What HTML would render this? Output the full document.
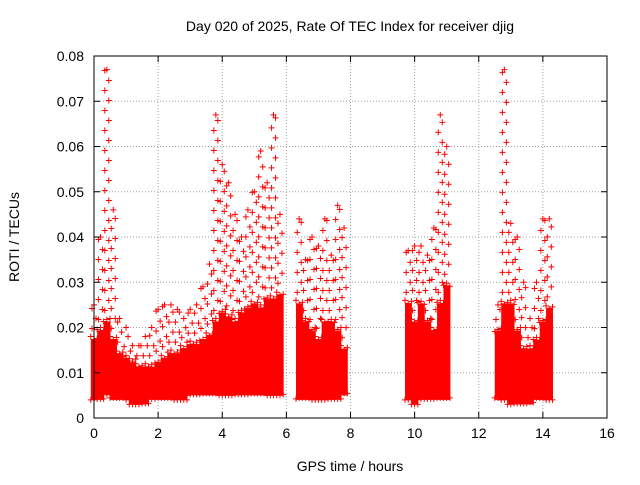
<!DOCTYPE html>
<html><head><meta charset="utf-8"><style>
body{margin:0;background:#fff;}
svg{font-family:"Liberation Sans",sans-serif;}
</style></head><body>
<svg id="chart" width="640" height="480" xmlns="http://www.w3.org/2000/svg">
<rect width="640" height="480" fill="#fff"/>
<text x="350" y="31" text-anchor="middle" font-size="14">Day 020 of 2025, Rate Of TEC Index for receiver djig</text>
<text x="350" y="471" text-anchor="middle" font-size="14">GPS time / hours</text>
<text transform="translate(19,237) rotate(-90)" text-anchor="middle" font-size="14">ROTI / TECUs</text>
<g id="grid"></g><g id="marks"></g><g id="axes"></g>
</svg>
<script>
const xTicks=[0,2,4,6,8,10,12,14,16];
const yTicks=[0,0.01,0.02,0.03,0.04,0.05,0.06,0.07,0.08];
const yTickLabels=["0","0.01","0.02","0.03","0.04","0.05","0.06","0.07","0.08"];
const binTimes=[0,0.2,0.4,0.6,0.8,1.0,1.2,1.4,1.6,1.8,2.0,2.2,2.4,2.6,2.8,3.0,3.2,3.4,3.6,3.8,4.0,4.2,4.4,4.6,4.8,5.0,5.2,5.4,5.6,5.8,
 6.4,6.6,6.8,7.0,7.2,7.4,7.6,7.8,
 9.8,10.0,10.2,10.4,10.6,10.8,11.0,
 12.6,12.8,13.0,13.2,13.4,13.6,13.8,14.0,14.2];
const coreHigh=[.018,.020,.022,.018,.015,.014,.013,.012,.012,.012,.013,.014,.015,.015,.016,.017,.017,.018,.019,.022,.024,.023,.022,.024,.025,.026,.025,.027,.027,.028,
 .026,.022,.020,.018,.022,.022,.020,.016,
 .026,.022,.026,.022,.020,.026,.030,
 .020,.026,.026,.020,.016,.016,.018,.022,.025];
const coreLow=[.004,.004,.005,.004,.004,.004,.003,.003,.003,.004,.004,.004,.004,.004,.004,.005,.005,.005,.005,.005,.005,.005,.005,.005,.005,.005,.005,.005,.005,.005,
 .004,.004,.004,.004,.004,.004,.004,.005,
 .004,.003,.004,.004,.004,.004,.004,
 .004,.004,.003,.003,.003,.003,.004,.004,.004];
const peakValues=[.025,.040,.077,.046,.022,.020,.016,.016,.018,.020,.024,.025,.025,.024,.022,.024,.025,.029,.034,.067,.056,.052,.045,.040,.046,.050,.059,.052,.067,.045,
 .044,.035,.040,.038,.044,.036,.047,.042,
 .037,.038,.038,.036,.042,.067,.060,
 .025,.077,.043,.040,.030,.022,.030,.044,.044];
const X0=94,X1=607,Y0=418,Y1=56;
const xs=v=>X0+(v-0)/(16-0)*(X1-X0);
const ys=v=>Y0-(v-0)/(0.08-0)*(Y0-Y1);
const NS="http://www.w3.org/2000/svg";
function mk(tag,attrs,parent){const e=document.createElementNS(NS,tag);for(const k in attrs)e.setAttribute(k,attrs[k]);parent.appendChild(e);return e;}
const grid=document.getElementById('grid'),marks=document.getElementById('marks'),axes=document.getElementById('axes');
xTicks.forEach((t,i)=>{
 if(i>0&&i<xTicks.length-1){const g=mk('line',{x1:xs(t),x2:xs(t),y1:Y0,y2:Y1,stroke:'#a0a0a0','stroke-dasharray':'1,2'},grid);
 
 }
 const l=mk('text',{x:xs(t),y:Y0+20,'text-anchor':'middle','font-size':'14'},axes);l.textContent=t;
 
 
 mk('line',{x1:xs(t),x2:xs(t),y1:Y0,y2:Y0-6,stroke:'#000'},axes);
 mk('line',{x1:xs(t),x2:xs(t),y1:Y1,y2:Y1+6,stroke:'#000'},axes);
});
yTicks.forEach((t,i)=>{
 if(i>0&&i<yTicks.length-1){const g=mk('line',{x1:X0,x2:X1,y1:ys(t),y2:ys(t),stroke:'#a0a0a0','stroke-dasharray':'1,2'},grid);
 
 }
 const l=mk('text',{x:X0-10,y:ys(t)+5,'text-anchor':'end','font-size':'14'},axes);l.textContent=yTickLabels[i];
 
 
 mk('line',{x1:X0,x2:X0+6,y1:ys(t),y2:ys(t),stroke:'#000'},axes);
 mk('line',{x1:X1,x2:X1-6,y1:ys(t),y2:ys(t),stroke:'#000'},axes);
});
const fr=mk('rect',{x:X0,y:Y1,width:X1-X0,height:Y0-Y1,fill:'none',stroke:'#000'},axes);


let d='';
function plus(x,y){d+=`M${x-3},${y}h6M${x},${y-3}v6`;}
const bw=0.2;
binTimes.forEach((t,i)=>{
 const xl=xs(t-bw/2),xr=xs(t+bw/2);
 const r=mk('rect',{x:xl,y:ys(coreHigh[i])+3,width:xr-xl+0.5,height:ys(coreLow[i])-ys(coreHigh[i])-3,fill:'#f00'},marks);
 
 
 for(let x=xl;x<=xr;x+=3.2){plus(x,ys(coreHigh[i])+((x|0)%5));plus(x,ys(coreLow[i])-((x|0)%3));}
 const xc=xs(t);
 let k=0;
 for(let y=ys(coreHigh[i])-8;y>ys(peakValues[i]);y-=10){plus(xc+(k%2?2:-2),y);k++;}
 plus(xc,ys(peakValues[i]));
});
const p=mk('path',{d:d,stroke:'#f00','stroke-width':'1',fill:'none'},marks);


</script>
</body></html>
